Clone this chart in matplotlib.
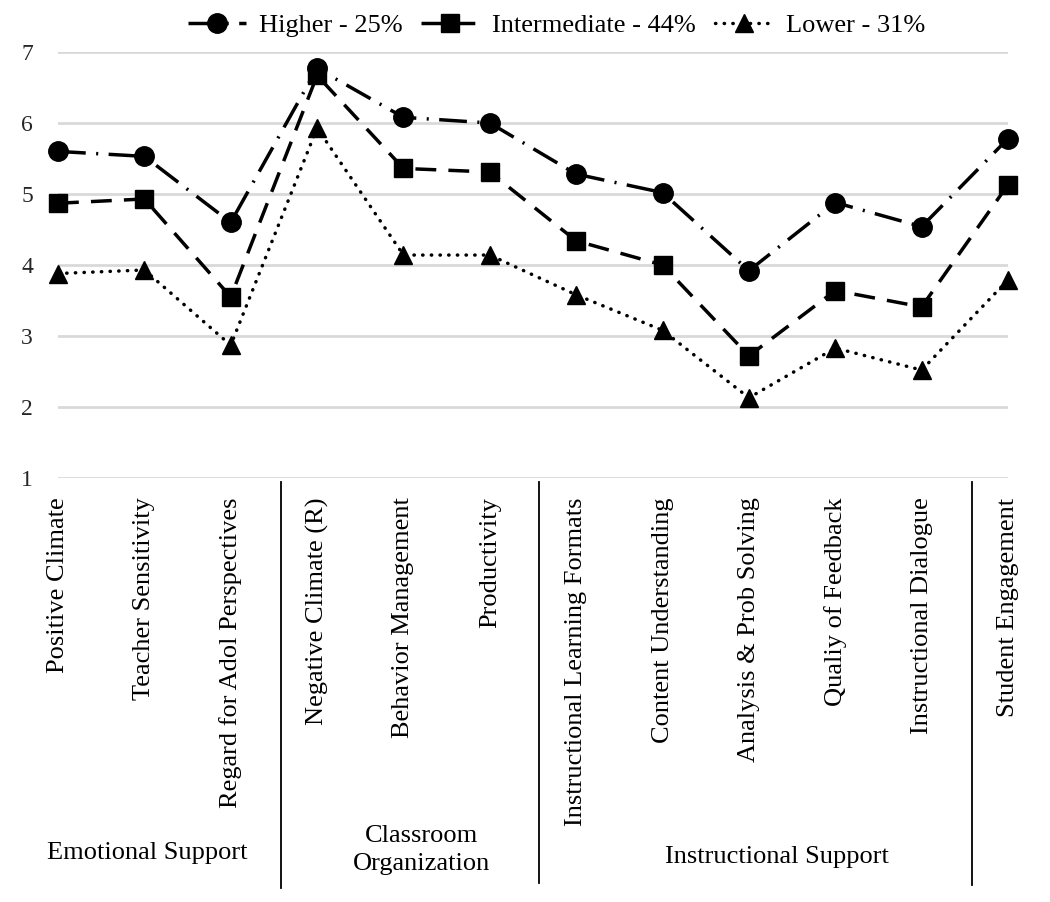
import matplotlib
matplotlib.use("Agg")
import matplotlib.pyplot as plt

plt.rcParams['font.family'] = ['Liberation Serif', 'DejaVu Serif']

categories = ["Positive Climate", "Teacher Sensitivity", "Regard for Adol Perspectives",
              "Negative Climate (R)", "Behavior Management", "Productivity",
              "Instructional Learning Formats", "Content Understanding",
              "Analysis & Prob Solving", "Qualiy of Feedback", "Instructional Dialogue",
              "Student Engagement"]
higher = [5.60, 5.53, 4.60, 6.77, 6.08, 6.00, 5.28, 5.02, 3.92, 4.88, 4.54, 5.78]
intermediate = [4.87, 4.93, 3.55, 6.67, 5.36, 5.31, 4.34, 4.00, 2.72, 3.64, 3.41, 5.13]
lower = [3.88, 3.93, 2.87, 5.93, 4.14, 4.14, 3.58, 3.08, 2.13, 2.83, 2.52, 3.79]
series_labels = ["Higher - 25%", "Intermediate - 44%", "Lower - 31%"]
groups = ["Emotional Support", "Classroom\nOrganization", "Instructional Support"]

fig = plt.figure(figsize=(10.5, 9.02), dpi=100)
ax = fig.add_axes([58/1050, 1-478/902, 950/1050, 426/902])

x = range(len(categories))
ax.plot(x, higher, color="black", lw=2.5, linestyle=(0, (8, 3, 0.6, 3)),
        marker="o", markersize=14, label=series_labels[0], clip_on=False)
ax.plot(x, intermediate, color="black", lw=2.5, linestyle=(0, (6, 3.5)),
        marker="s", markersize=13, label=series_labels[1], clip_on=False)
ax.plot(x, lower, color="black", lw=2.5, linestyle=(0, (0.1, 2.4)),
        dash_capstyle="round", marker="^", markersize=13, label=series_labels[2], clip_on=False)

ax.set_xlim(0, len(categories) - 1)
ax.set_ylim(1, 7)
ax.set_yticks(range(1, 8))
ax.yaxis.grid(True, color="#d9d9d9", lw=2)
ax.set_axisbelow(True)
for s in ax.spines.values():
    s.set_visible(False)
ax.tick_params(axis="y", length=0, pad=18, labelsize=17, labelcolor="#262626")
ax.tick_params(axis="x", length=0, pad=14)
ax.set_xticks(list(x))
ax.set_xticklabels(categories, rotation=90, fontsize=19, va="top", ha="center")

# group separators and labels below the axis
tr = ax.get_xaxis_transform()
for xs, yb in [(2.58, -0.962), (5.57, -0.950), (10.58, -0.955)]:
    ax.plot([xs, xs], [-0.01, yb], color="black", lw=1.3, transform=tr, clip_on=False)
for gx, gy, g in [(1.03, -0.880, groups[0]), (4.21, -0.873, groups[1]), (8.33, -0.890, groups[2])]:
    ax.text(gx, gy, g, transform=tr, ha="center", va="center", fontsize=19, linespacing=1.35)

fig.legend(loc="center", bbox_to_anchor=(0.53, 0.972), ncol=3, frameon=False,
           fontsize=19, handlelength=2.2, columnspacing=0.7, handletextpad=0.5)

fig.savefig("out.png", dpi=100)
